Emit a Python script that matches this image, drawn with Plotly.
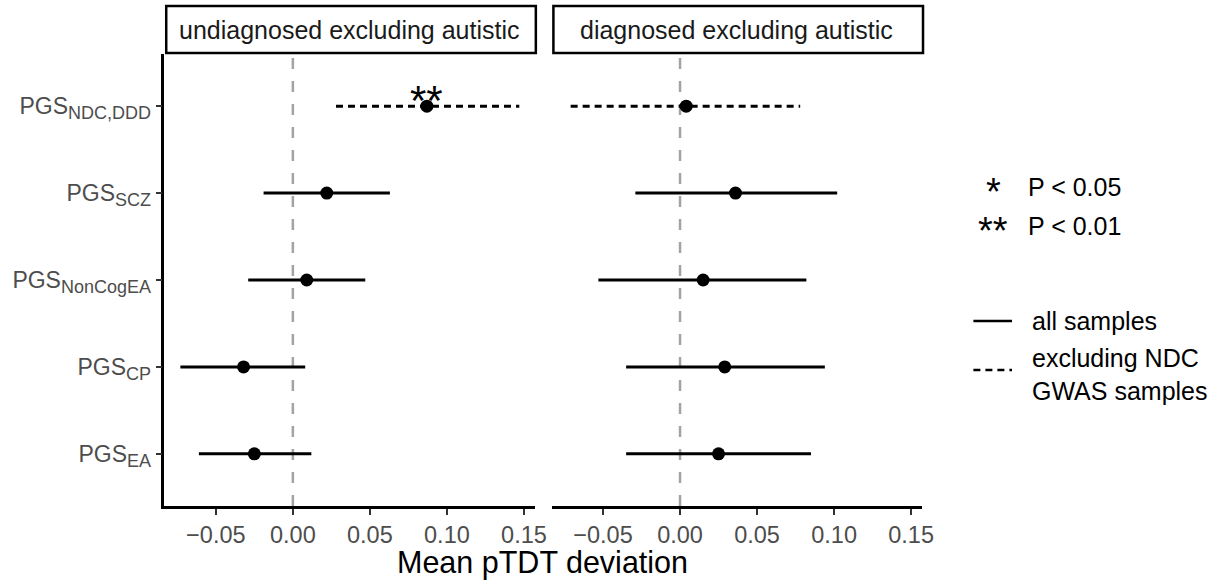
import plotly.graph_objects as go

# ---- data -------------------------------------------------------------
categories = ["NDC,DDD", "SCZ", "NonCogEA", "CP", "EA"]
subscripts = ["NDC,DDD", "SCZ", "NonCogEA", "CP", "EA"]
sample_set = ["excl", "all", "all", "all", "all"]

panel_titles = ["undiagnosed excluding autistic", "diagnosed excluding autistic"]

undiag_mean = [0.087, 0.022, 0.009, -0.032, -0.025]
undiag_lo = [0.028, -0.019, -0.029, -0.073, -0.061]
undiag_hi = [0.147, 0.063, 0.047, 0.008, 0.012]
undiag_sig = ["**", "", "", "", ""]

diag_mean = [0.004, 0.036, 0.015, 0.029, 0.025]
diag_lo = [-0.071, -0.029, -0.053, -0.035, -0.035]
diag_hi = [0.078, 0.102, 0.082, 0.094, 0.085]
diag_sig = ["", "", "", "", ""]

x_ticks = [-0.05, 0.0, 0.05, 0.10, 0.15]
x_ticktext = ["\u22120.05", "0.00", "0.05", "0.10", "0.15"]
x_title = "Mean pTDT deviation"

sig_keys = ["*", "**"]
sig_labels = ["P < 0.05", "P < 0.01"]
line_keys = ["all samples", "excluding NDC<br>GWAS samples"]

# ---- figure -----------------------------------------------------------
W, H = 1228, 584
FONT = "Liberation Sans, Arial, Helvetica, sans-serif"
DOT = "7px,5px"

tick_labels = [f'PGS<sub><span style="font-size:18px">{s}</span></sub>' for s in subscripts]

fig = go.Figure()

panels = [
    ("x", "y", undiag_mean, undiag_lo, undiag_hi, undiag_sig),
    ("x2", "y2", diag_mean, diag_lo, diag_hi, diag_sig),
]

for xa, ya, mean, lo, hi, sig in panels:
    for cat, m, l, h, s, kind in zip(categories, mean, lo, hi, sig, sample_set):
        fig.add_trace(go.Scatter(
            x=[l, h], y=[cat, cat], mode="lines", xaxis=xa, yaxis=ya,
            line=dict(color="black", width=3, dash="solid" if kind == "all" else DOT),
            showlegend=False, hoverinfo="skip"))
    fig.add_trace(go.Scatter(
        x=mean, y=categories, mode="markers", xaxis=xa, yaxis=ya,
        marker=dict(color="black", size=13), showlegend=False))
    for cat, m, s in zip(categories, mean, sig):
        if s:
            fig.add_annotation(x=m, y=cat, xref=xa, yref=ya, text=s, showarrow=False,
                               xanchor="center", yanchor="middle",
                               font=dict(family=FONT, size=42, color="black"),
                               yshift=6)

# reference line at zero and facet strips
for i, (xa, ya) in enumerate([("x", "y"), ("x2", "y2")]):
    sfx = "" if i == 0 else "2"
    fig.add_shape(type="line", xref=xa, yref=f"y{sfx} domain", x0=0, x1=0, y0=0, y1=1,
                  line=dict(color="#a3a3a3", width=2.5, dash="11px,12px"), layer="below")
    fig.add_shape(type="rect", xref=f"x{sfx} domain", yref="paper",
                  x0=0.005, x1=1.003, y0=1 - 53 / H, y1=1 - 6 / H,
                  line=dict(color="black", width=2.5), fillcolor="white")
    fig.add_annotation(xref=f"x{sfx} domain", yref="paper", x=0.5, y=1 - 30 / H,
                       xanchor="center", yanchor="middle",
                       text=panel_titles[i], showarrow=False,
                       font=dict(family=FONT, size=25, color="#1a1a1a"))

# shared x title
fig.add_annotation(xref="paper", yref="paper", x=548 / W, y=1 - 562 / H,
                   xanchor="center", yanchor="middle",
                   text=x_title, showarrow=False,
                   font=dict(family=FONT, size=30.5, color="black"))

# significance key
for key, lab, yc in zip(sig_keys, sig_labels, [187, 226]):
    fig.add_annotation(xref="paper", yref="paper", x=1003 / W, y=1 - yc / H,
                       xanchor="center", yanchor="middle",
                       text=key, showarrow=False, yshift=-5,
                       font=dict(family=FONT, size=38, color="black"))
    fig.add_annotation(xref="paper", yref="paper", x=1036 / W, y=1 - yc / H,
                       text=lab, showarrow=False, xanchor="left", yanchor="middle",
                       font=dict(family=FONT, size=25, color="black"))

# line-type key
for lab, yl, yt, dash in zip(line_keys, [321, 370], [321, 374], ["solid", DOT]):
    fig.add_shape(type="line", xref="paper", yref="paper",
                  x0=983 / W, x1=1022 / W, y0=1 - yl / H, y1=1 - yl / H,
                  line=dict(color="black", width=2.5, dash=dash))
    fig.add_annotation(xref="paper", yref="paper", x=1040 / W, y=1 - yt / H,
                       text=lab, showarrow=False, xanchor="left", yanchor="middle",
                       align="left",
                       font=dict(family=FONT, size=25, color="black"))

xcommon = dict(range=[-0.0834, 0.157], tickvals=x_ticks, ticktext=x_ticktext,
               showline=True, linecolor="black", linewidth=2.5,
               ticks="outside", ticklen=6, tickwidth=2, tickcolor="#333333",
               tickfont=dict(family=FONT, size=23.5, color="#4d4d4d"),
               showgrid=False, zeroline=False)
ydomain = [1 - 506 / H, 1 - 54 / H]

fig.update_layout(
    width=W, height=H, margin=dict(l=0, r=0, t=0, b=0),
    paper_bgcolor="white", plot_bgcolor="white", showlegend=False,
    xaxis=dict(domain=[166 / W, 540 / W], anchor="y", **xcommon),
    xaxis2=dict(domain=[557 / W, 931 / W], anchor="y2", **xcommon),
    yaxis=dict(domain=ydomain, anchor="x", type="category",
               categoryorder="array", categoryarray=categories,
               range=[4.6, -0.6], tickvals=categories, ticktext=tick_labels,
               showline=True, linecolor="black", linewidth=2.5,
               ticks="outside", ticklen=6, tickwidth=2, tickcolor="#333333",
               tickfont=dict(family=FONT, size=23, color="#4d4d4d"),
               showgrid=False, zeroline=False),
    yaxis2=dict(domain=ydomain, anchor="x2", type="category",
                categoryorder="array", categoryarray=categories,
                range=[4.6, -0.6], showticklabels=False, ticks="",
                showline=False, showgrid=False, zeroline=False),
)

fig.write_html("out.html")
